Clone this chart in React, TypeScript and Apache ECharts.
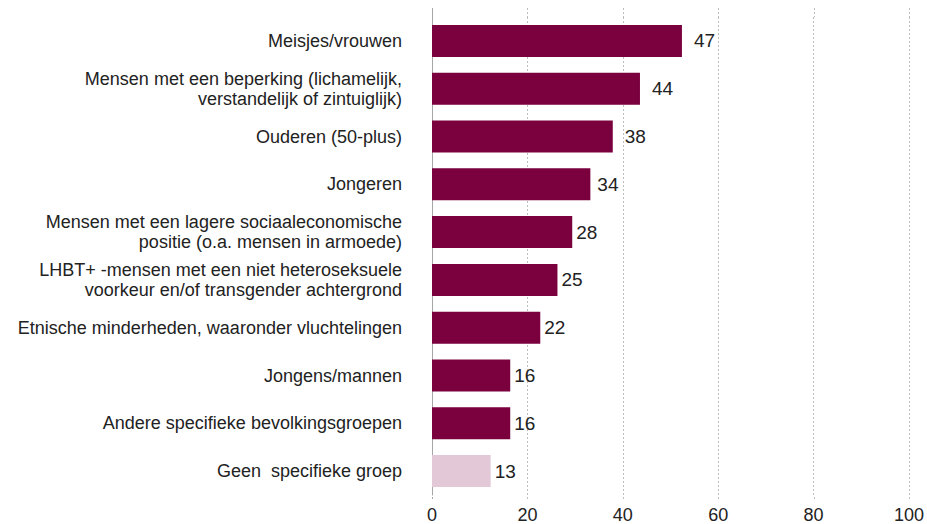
import React, { useEffect, useRef } from "react";
import * as echarts from "echarts";

const categories = [
  "Meisjes/vrouwen",
  "Mensen met een beperking (lichamelijk,\nverstandelijk of zintuiglijk)",
  "Ouderen (50-plus)",
  "Jongeren",
  "Mensen met een lagere sociaaleconomische\npositie (o.a. mensen in armoede)",
  "LHBT+ -mensen met een niet heteroseksuele\nvoorkeur en/of transgender achtergrond",
  "Etnische minderheden, waaronder vluchtelingen",
  "Jongens/mannen",
  "Andere specifieke bevolkingsgroepen",
  "Geen  specifieke groep",
];
// bar lengths as drawn in the picture
const barValues = [52.4, 43.6, 37.9, 33.2, 29.4, 26.3, 22.7, 16.4, 16.4, 12.3];
// printed value labels
const valueLabels = [47, 44, 38, 34, 28, 25, 22, 16, 16, 13];
const xTicks = [0, 20, 40, 60, 80, 100];

const MAIN = "#7a003e";
const LIGHT = "#e3c9d7";
const labelGaps = [12, 12, 12, 7, 4, 4, 4, 4, 4, 4];
const FONT = "'Liberation Sans Narrow', 'Arial Narrow', 'Liberation Sans', sans-serif";
const GRID_TOP = 17;
const GRID_H = 480;
const EXT_TOP = 9;
const EXT_BOTTOM = 2;

export default function App() {
  const ref = useRef<HTMLDivElement>(null);
  useEffect(() => {
    if (!ref.current) return;
    const chart = echarts.init(ref.current, undefined, { renderer: "svg" });
    chart.setOption({
      animation: false,
      backgroundColor: "#ffffff",
      grid: { left: 432, right: 16, top: GRID_TOP, height: GRID_H },
      xAxis: {
        type: "value",
        min: xTicks[0],
        max: xTicks[xTicks.length - 1],
        interval: 20,
        axisLine: { show: false },
        axisTick: { show: false },
        axisLabel: { color: "#222", fontSize: 18, fontFamily: FONT, margin: 11 },
        splitLine: { show: true, lineStyle: { color: "#bdbdbd", type: [2, 2], width: 1 } },
      },
      yAxis: {
        type: "category",
        inverse: true,
        data: categories,
        axisLine: { show: true, lineStyle: { color: "#a6a6a6", width: 1 } },
        axisTick: { show: false },
        axisLabel: {
          color: "#222",
          fontSize: 18,
          fontFamily: FONT,
          lineHeight: 20,
          margin: 30,
          align: "right",
        },
      },
      series: [
        {
          type: "bar",
          barWidth: 32,
          data: barValues.map((v, i) => ({
            value: v,
            itemStyle: { color: i === barValues.length - 1 ? LIGHT : MAIN },
            label: {
              show: true,
              position: "right",
              distance: labelGaps[i],
              formatter: String(valueLabels[i]),
              color: "#222",
              fontSize: 19,
              fontFamily: FONT,
            },
          })),
        },
      ],
    });
    // extend grid lines slightly beyond the plot band, as in the reference
    const ext: any[] = [];
    xTicks.forEach((t) => {
      const px = Math.round(chart.convertToPixel({ xAxisIndex: 0 }, t) as number) + (t === 0 ? 0 : 0);
      const isZero = t === 0;
      const style = isZero
        ? { stroke: "#a6a6a6", lineWidth: 1 }
        : { stroke: "#bdbdbd", lineWidth: 1, lineDash: [2, 2] };
      ext.push({
        type: "line",
        shape: { x1: px + 0.5, y1: GRID_TOP - EXT_TOP, x2: px + 0.5, y2: GRID_TOP },
        style,
        silent: true,
      });
      ext.push({
        type: "line",
        shape: { x1: px + 0.5, y1: GRID_TOP + GRID_H, x2: px + 0.5, y2: GRID_TOP + GRID_H + EXT_BOTTOM },
        style,
        silent: true,
      });
    });
    chart.setOption({ graphic: ext });
    return () => chart.dispose();
  }, []);
  return (
    <div
      ref={ref}
      style={{ position: "fixed", left: 0, top: 0, width: 927, height: 524 }}
    />
  );
}
